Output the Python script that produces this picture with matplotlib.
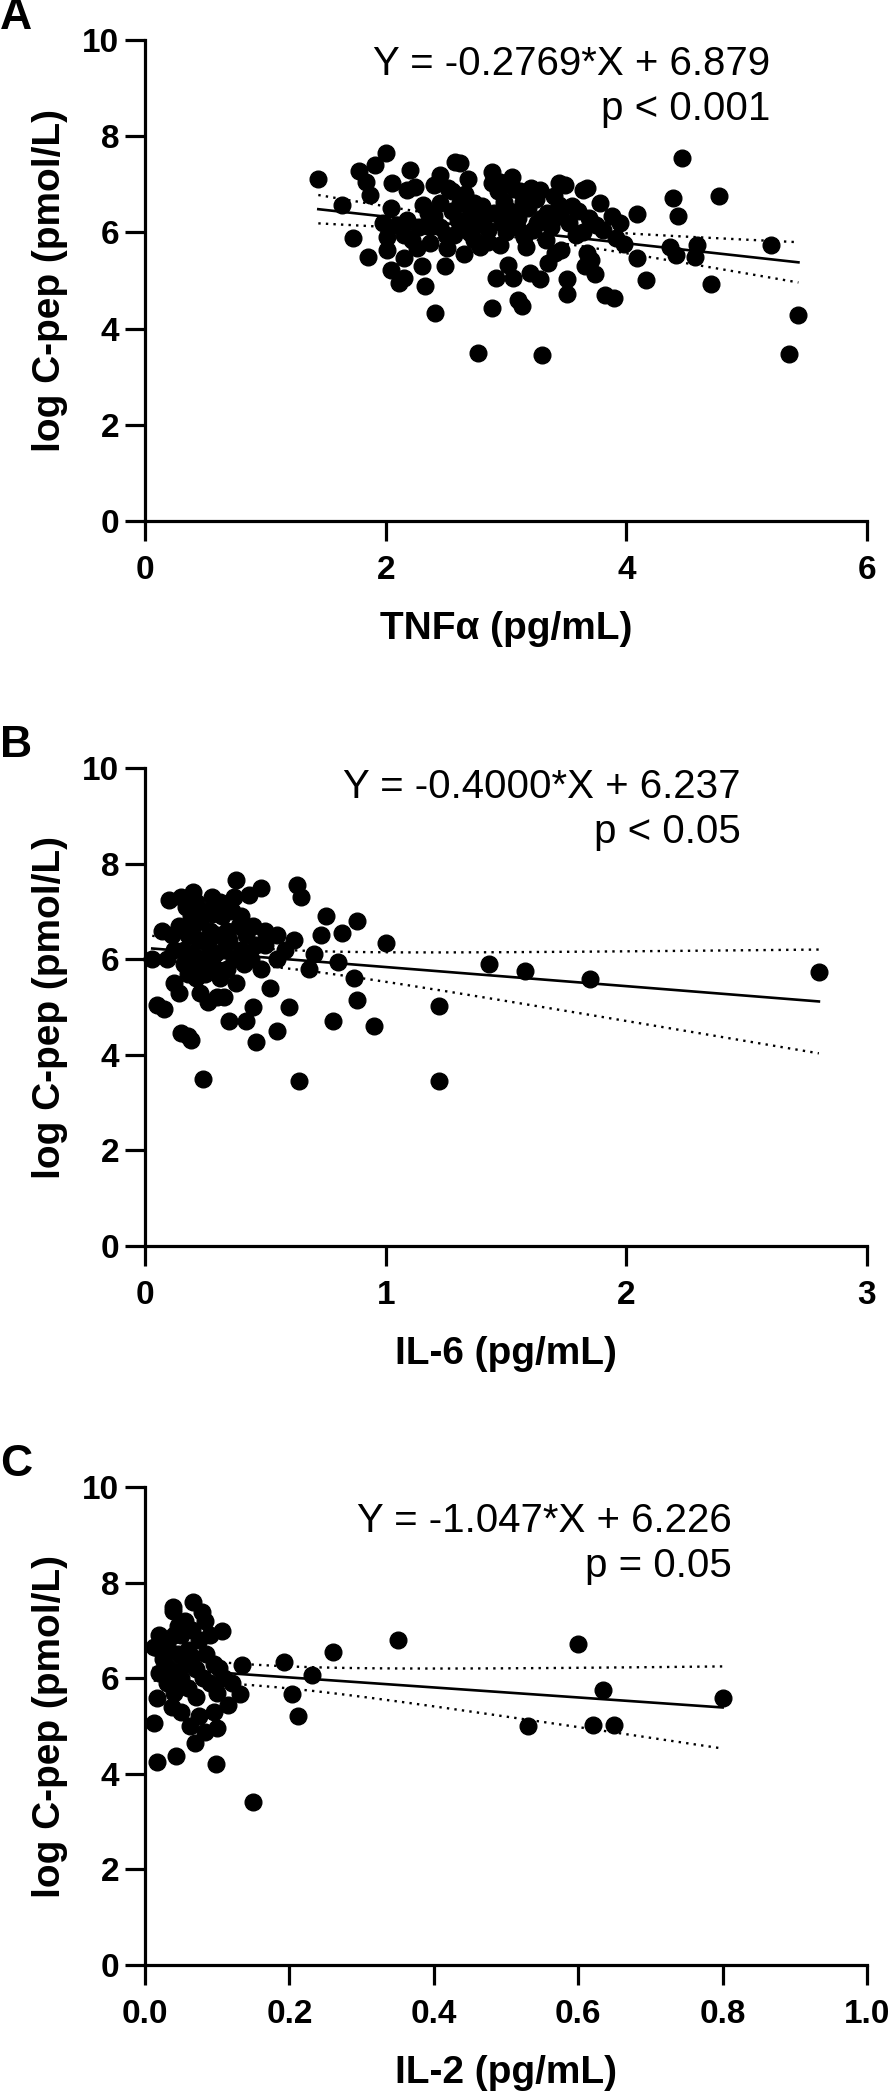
import numpy as np
import matplotlib.pyplot as plt

plt.rcParams['font.family'] = ['Liberation Sans', 'DejaVu Sans']

# ---- panel A: TNFa vs log C-pep ----
tnf_x = [1.44, 1.64, 1.73, 1.85, 2.00, 1.91, 1.78, 1.84, 1.87, 2.05, 2.04, 2.20, 2.18, 2.24,
         2.31, 2.45, 2.58, 2.40, 2.52, 1.98, 2.09, 2.01, 2.01, 2.15, 2.18, 2.26, 2.37, 2.15,
         2.04, 2.15, 2.11, 2.30, 2.33, 2.41, 2.49, 2.51, 2.45, 2.37, 2.40, 2.62, 2.73, 2.73,
         2.77, 4.46, 4.39, 4.43, 4.77, 4.09, 3.88, 3.69, 3.64, 3.67, 3.44, 3.49, 3.21, 3.28,
         2.88, 2.88, 2.62, 2.98, 3.14, 3.44, 3.45, 3.64, 3.81, 3.91, 4.36, 4.41, 4.59, 4.57,
         5.20, 4.09, 4.16, 4.70, 5.43, 5.35, 3.30, 2.88, 3.10, 3.13, 3.51, 3.51, 3.82, 3.90,
         3.74, 3.67, 3.71, 3.66, 3.35, 3.41, 3.46, 3.02, 2.92, 3.06, 3.20, 3.28, 2.62, 3.17,
         2.95, 2.78, 2.70, 3.09, 3.26, 3.34, 2.81, 2.73, 2.55, 2.60, 2.66, 2.70, 2.75, 2.80,
         2.85, 2.90, 2.93, 2.97, 3.00, 3.03, 3.07, 3.10, 3.15, 3.18, 3.22, 3.25, 3.30, 3.33,
         3.37, 3.40, 3.52, 3.55, 3.58, 3.60, 3.75, 3.78, 3.95, 3.98, 2.57, 2.65, 2.85, 2.50,
         2.55, 2.68, 2.95, 3.05, 3.12, 2.45, 2.35, 2.28, 2.22]
tnf_y = [7.10, 6.56, 5.88, 5.48, 7.64, 7.40, 7.28, 7.05, 6.78, 7.02, 6.50, 7.30, 6.88, 6.95,
         6.57, 7.20, 7.47, 6.99, 6.92, 6.19, 6.15, 5.91, 5.63, 5.95, 6.26, 5.67, 5.77, 5.46,
         5.22, 5.05, 4.94, 5.29, 4.89, 4.32, 5.29, 5.67, 6.12, 6.12, 6.33, 6.60, 6.47, 5.84,
         3.49, 7.54, 6.72, 6.33, 6.76, 6.38, 6.34, 6.29, 6.88, 6.92, 7.02, 6.99, 6.92, 6.88,
         7.26, 7.02, 7.44, 6.64, 6.64, 6.57, 6.33, 6.01, 6.05, 5.88, 5.70, 5.53, 5.74, 5.49,
         5.74, 5.46, 5.00, 4.92, 4.28, 3.48, 3.45, 4.43, 4.59, 4.46, 5.02, 4.71, 4.70, 4.64,
         5.13, 5.56, 5.43, 5.29, 5.36, 5.56, 5.63, 5.32, 5.05, 5.05, 5.15, 5.02, 6.12, 5.70,
         5.74, 5.70, 5.98, 6.12, 6.19, 6.40, 6.33, 6.60, 6.45, 6.25, 6.80, 6.35, 6.15, 6.55,
         6.05, 6.40, 6.85, 6.20, 6.00, 6.45, 6.90, 6.30, 5.90, 6.50, 6.05, 6.70, 6.30, 5.85,
         6.10, 6.75, 6.20, 6.55, 5.95, 6.45, 6.15, 6.60, 6.20, 5.75, 5.95, 5.55, 5.80, 5.95,
         6.85, 7.10, 7.05, 7.15, 6.85, 6.60, 6.40, 6.10, 5.85]

# ---- panel B: IL-6 vs log C-pep ----
il6_x = [2.80, 1.85, 1.58, 1.43, 1.22, 1.22, 1.00, 0.95, 0.88, 0.87, 0.88, 0.78, 0.73, 0.75,
         0.82, 0.80, 0.64, 0.24, 0.19, 0.46, 0.63, 0.65, 0.68, 0.70, 0.62, 0.60, 0.55, 0.50,
         0.48, 0.43, 0.38, 0.55, 0.52, 0.45, 0.42, 0.35, 0.30, 0.28, 0.25, 0.20, 0.15, 0.10,
         0.07, 0.03, 0.05, 0.08, 0.12, 0.15, 0.18, 0.22, 0.12, 0.14, 0.16, 0.18, 0.19, 0.20,
         0.21, 0.22, 0.23, 0.24, 0.25, 0.26, 0.27, 0.28, 0.29, 0.30, 0.31, 0.32, 0.33, 0.34,
         0.35, 0.36, 0.37, 0.38, 0.39, 0.40, 0.41, 0.42, 0.44, 0.46, 0.48, 0.16, 0.18, 0.20,
         0.23, 0.26, 0.28, 0.31, 0.34, 0.37, 0.40, 0.45, 0.14, 0.11, 0.09, 0.17, 0.21, 0.33,
         0.50, 0.55, 0.58]
il6_y = [5.73, 5.58, 5.76, 5.90, 5.03, 3.46, 6.35, 4.60, 6.80, 5.60, 5.15, 4.70, 6.50, 6.90,
         6.55, 5.95, 3.46, 3.49, 4.31, 4.27, 7.55, 7.30, 5.80, 6.10, 6.40, 5.00, 4.50, 6.60,
         7.50, 7.35, 7.65, 6.00, 5.40, 5.00, 4.70, 4.70, 5.20, 7.30, 7.00, 7.40, 7.30, 7.25,
         6.60, 6.00, 5.05, 4.95, 5.50, 4.45, 4.40, 5.80, 6.20, 6.70, 5.90, 6.50, 6.90, 6.10,
         5.60, 6.40, 6.80, 6.00, 5.70, 6.30, 6.60, 5.90, 6.10, 6.50, 5.60, 6.90, 6.20, 5.80,
         6.40, 7.00, 6.00, 5.50, 6.70, 6.20, 5.90, 6.50, 6.00, 6.30, 5.80, 6.20, 5.70, 6.70,
         5.30, 5.10, 6.95, 7.20, 6.60, 7.30, 6.90, 6.70, 5.30, 6.50, 6.00, 7.10, 7.20, 5.20,
         6.30, 6.50, 6.20]

# ---- panel C: IL-2 vs log C-pep ----
il2_x = [0.800, 0.650, 0.620, 0.635, 0.530, 0.599, 0.351, 0.260, 0.193, 0.231, 0.212, 0.204,
         0.134, 0.131, 0.115, 0.149, 0.102, 0.106, 0.016, 0.043, 0.098, 0.069, 0.013, 0.100,
         0.083, 0.062, 0.016, 0.037, 0.095, 0.067, 0.039, 0.039, 0.079, 0.083, 0.012, 0.040,
         0.020, 0.025, 0.030, 0.030, 0.035, 0.040, 0.045, 0.050, 0.050, 0.055, 0.060, 0.060,
         0.065, 0.070, 0.070, 0.075, 0.080, 0.085, 0.090, 0.090, 0.095, 0.100, 0.050, 0.055,
         0.020, 0.045, 0.075, 0.110, 0.120, 0.065]
il2_y = [5.58, 5.02, 5.02, 5.75, 5.00, 6.72, 6.81, 6.54, 6.35, 6.07, 5.21, 5.67,
         6.28, 5.68, 5.43, 3.42, 6.21, 6.99, 4.25, 4.37, 4.21, 4.64, 5.07, 4.95,
         4.88, 5.00, 5.58, 5.40, 5.30, 7.60, 7.50, 7.40, 7.39, 7.20, 6.66, 6.90,
         6.10, 6.40, 5.90, 6.70, 6.20, 5.70, 6.50, 6.00, 6.90, 6.30, 5.80, 6.60,
         7.00, 6.20, 5.60, 6.80, 6.00, 6.50, 5.90, 6.90, 6.30, 5.70, 5.30, 7.20,
         6.90, 7.10, 5.20, 6.00, 5.90, 6.45]

panels = [
    dict(x=tnf_x, y=tnf_y, slope=-0.2769, icpt=6.879, xmax=6, xticks=[0, 2, 4, 6],
         xticklabels=['0', '2', '4', '6'], xlabel='TNFα (pg/mL)',
         eq='Y = -0.2769*X + 6.879', p='p < 0.001', tx=0.866, ty=(0.927, 0.834), tag='A',
         rect=[0.1626, 0.7517, 0.8094, 0.2293]),
    dict(x=il6_x, y=il6_y, slope=-0.4000, icpt=6.237, xmax=3, xticks=[0, 1, 2, 3],
         xticklabels=['0', '1', '2', '3'], xlabel='IL-6 (pg/mL)',
         eq='Y = -0.4000*X + 6.237', p='p < 0.05', tx=0.825, ty=(0.937, 0.843), tag='B',
         rect=[0.1626, 0.4061, 0.8094, 0.2278]),
    dict(x=il2_x, y=il2_y, slope=-1.047, icpt=6.226, xmax=1.0,
         xticks=[0, 0.2, 0.4, 0.6, 0.8, 1.0],
         xticklabels=['0.0', '0.2', '0.4', '0.6', '0.8', '1.0'], xlabel='IL-2 (pg/mL)',
         eq='Y = -1.047*X + 6.226', p='p = 0.05', tx=0.813, ty=(0.906, 0.812), tag='C',
         rect=[0.1626, 0.0634, 0.8094, 0.2278]),
]

fig = plt.figure(figsize=(8.92, 20.98), dpi=100)
LW = 2.3

for pn in panels:
    ax = fig.add_axes(pn['rect'])
    x = np.array(pn['x'])
    y = np.array(pn['y'])
    ax.plot(x, y, 'o', color='black', ms=12, mec='black', zorder=3, clip_on=False)

    # fitted line and 95% confidence band
    xs = np.linspace(x.min(), x.max(), 200)
    yfit = pn['slope'] * xs + pn['icpt']
    n = len(x)
    resid = y - (pn['slope'] * x + pn['icpt'])
    s = np.sqrt(np.sum(resid ** 2) / (n - 2))
    sxx = np.sum((x - x.mean()) ** 2)
    half = 1.975 * s * np.sqrt(1.0 / n + (xs - x.mean()) ** 2 / sxx)
    ax.plot(xs, yfit, color='black', lw=1.9, zorder=4)
    ax.plot(xs, yfit + half, color='black', lw=1.7, ls=(0, (1, 2.2)), zorder=4)
    ax.plot(xs, yfit - half, color='black', lw=1.7, ls=(0, (1, 2.2)), zorder=4)

    ax.set_xlim(0, pn['xmax'])
    ax.set_ylim(0, 10)
    ax.set_xticks(pn['xticks'])
    ax.set_xticklabels(pn['xticklabels'])
    ax.set_yticks([0, 2, 4, 6, 8, 10])
    for side in ['top', 'right']:
        ax.spines[side].set_visible(False)
    for side in ['left', 'bottom']:
        ax.spines[side].set_linewidth(LW)
    ax.tick_params(length=14.5, width=LW, labelsize=24, direction='out')
    ax.tick_params(axis='x', pad=10)
    ax.tick_params(axis='y', pad=4)
    for lab in ax.get_xticklabels() + ax.get_yticklabels():
        lab.set_fontweight('bold')
    ax.set_xlabel(pn['xlabel'], fontsize=28, fontweight='bold', labelpad=18)
    ax.set_ylabel('log C-pep (pmol/L)', fontsize=28, fontweight='bold', labelpad=10)

    ax.text(pn['tx'], pn['ty'][0], pn['eq'], transform=ax.transAxes, ha='right',
            va='baseline', fontsize=29)
    ax.text(pn['tx'], pn['ty'][1], pn['p'], transform=ax.transAxes, ha='right',
            va='baseline', fontsize=29)

    top_px = (1 - pn['rect'][1] - pn['rect'][3]) * 2098
    fig.text(0.0, 1 - (top_px - 2) / 2098, pn['tag'], fontsize=32, fontweight='bold',
             ha='left', va='bottom')

fig.savefig('out.png', dpi=100)
